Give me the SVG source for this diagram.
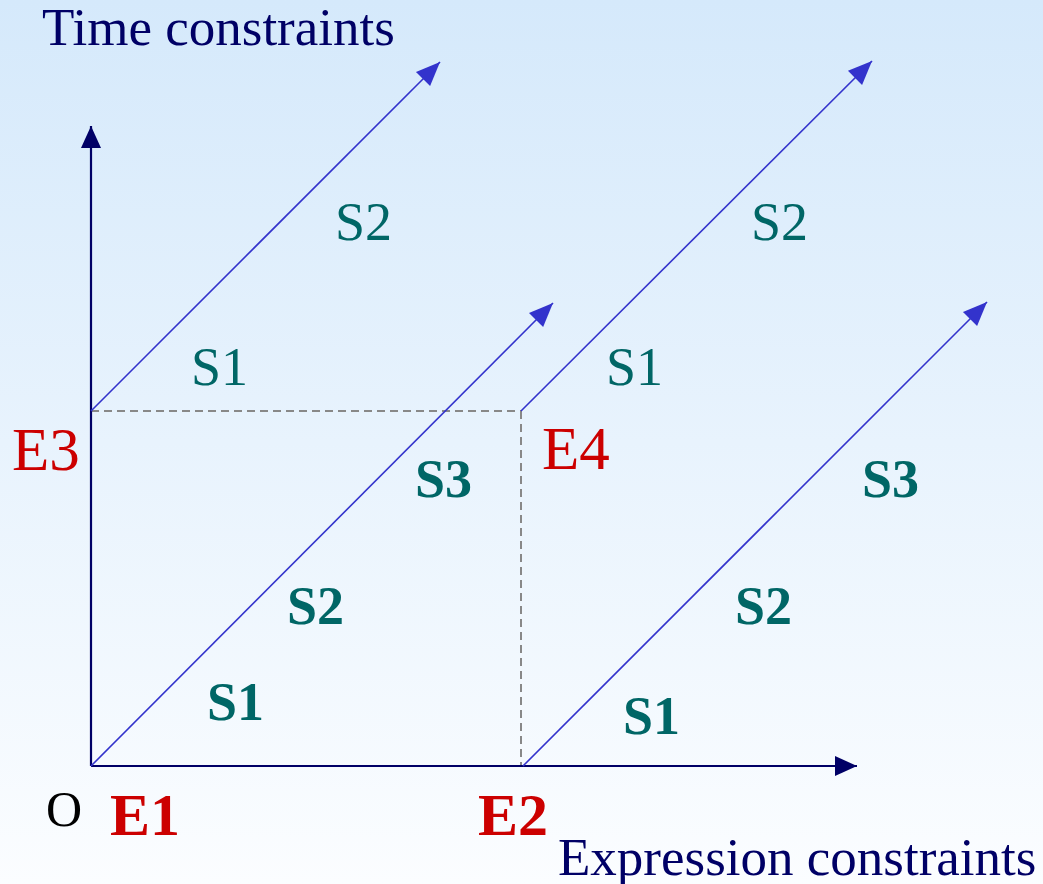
<svg xmlns="http://www.w3.org/2000/svg" width="1043" height="884" viewBox="0 0 1043 884">
<defs>
<linearGradient id="bg" x1="0" y1="0" x2="0" y2="1">
<stop offset="0" stop-color="#d5e9fb"/>
<stop offset="1" stop-color="#fbfdff"/>
</linearGradient>
<marker id="axArrow" viewBox="0 0 10 10" refX="10" refY="5" markerWidth="10" markerHeight="10" markerUnits="userSpaceOnUse" orient="auto" overflow="visible">
<path d="M-12,-5 L10,5 L-12,15 Z" fill="#000066"/>
</marker>
<marker id="dArrow" viewBox="0 0 10 10" refX="10" refY="5" markerWidth="10" markerHeight="10" markerUnits="userSpaceOnUse" orient="auto" overflow="visible">
<path d="M-14,-5 L10,5 L-14,15 Z" fill="#3333cc"/>
</marker>
</defs>
<style>
.axis{stroke:#000066;stroke-width:2.2;fill:none}
.diag{stroke:#3333cc;stroke-width:1.6;fill:none}
.dash{stroke:#888888;stroke-width:2;stroke-dasharray:8 5;fill:none}
text{font-family:"Liberation Serif","Times New Roman",serif}
.title{font-size:53px;fill:#000066}
.s{font-size:54px;fill:#006666}
.sb{font-size:54px;fill:#006666;font-weight:bold}
.e{font-size:61px;fill:#cc0000}
.eb{font-size:60px;fill:#cc0000;font-weight:bold}
.o{font-size:50px;fill:#000000}
</style>
<rect width="1043" height="884" fill="url(#bg)"/>
<g id="connectors">
<line class="dash" x1="91" y1="411" x2="521" y2="411"/>
<line class="dash" x1="521" y1="411" x2="521" y2="766"/>
<line class="axis" x1="91" y1="766" x2="91" y2="126" marker-end="url(#axArrow)"/>
<line class="axis" x1="91" y1="766" x2="857" y2="766" marker-end="url(#axArrow)"/>
<line class="diag" x1="91" y1="411" x2="440" y2="62" marker-end="url(#dArrow)"/>
<line class="diag" x1="91" y1="766" x2="553" y2="303" marker-end="url(#dArrow)"/>
<line class="diag" x1="521" y1="411" x2="872" y2="61" marker-end="url(#dArrow)"/>
<line class="diag" x1="523" y1="766" x2="987" y2="302" marker-end="url(#dArrow)"/>
</g>
<g id="axis-labels">
<text class="title" x="42" y="45">Time constraints</text>
<text class="title" x="558" y="875">Expression constraints</text>
</g>
<g id="origin"><text class="o" x="46" y="826">O</text></g>
<g id="E1"><text class="eb" x="110" y="835">E1</text></g>
<g id="E2"><text class="eb" x="478" y="835">E2</text></g>
<g id="E3"><text class="e" x="12" y="470">E3</text></g>
<g id="E4"><text class="e" x="542" y="469">E4</text></g>
<g id="line1-labels">
<text class="s" x="191" y="385">S1</text>
<text class="s" x="335" y="240">S2</text>
</g>
<g id="line2-labels">
<text class="sb" x="207" y="720">S1</text>
<text class="sb" x="287" y="624">S2</text>
<text class="sb" x="415" y="497">S3</text>
</g>
<g id="line3-labels">
<text class="s" x="606" y="385">S1</text>
<text class="s" x="751" y="240">S2</text>
</g>
<g id="line4-labels">
<text class="sb" x="623" y="734">S1</text>
<text class="sb" x="735" y="624">S2</text>
<text class="sb" x="862" y="497">S3</text>
</g>
</svg>
